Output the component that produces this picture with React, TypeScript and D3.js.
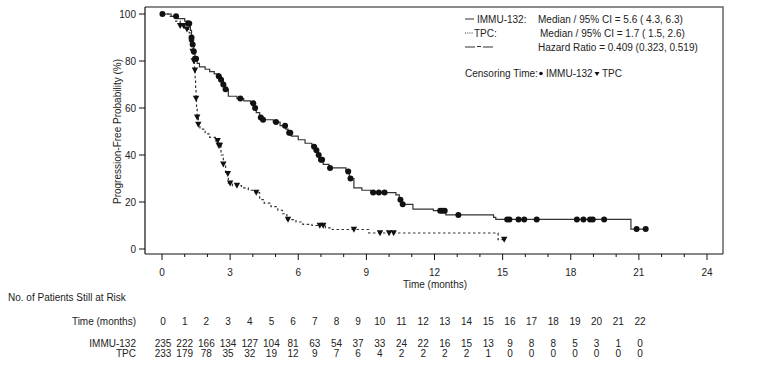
import React from "react";
import * as d3 from "d3";

// IMMU-132 step function: [time (months), PFS %]
const immuSteps: [number, number][] = [
  [0, 100], [0.4, 99], [0.7, 98], [1.0, 97], [1.15, 96], [1.25, 93], [1.3, 90], [1.35, 87],
  [1.4, 84], [1.45, 81], [1.55, 79], [1.65, 77.5], [1.9, 76.5], [2.1, 75.5], [2.3, 74.5],
  [2.5, 73.5], [2.6, 72], [2.7, 70], [2.8, 68], [2.92, 65], [3.3, 64], [3.6, 63], [3.9, 62],
  [4.05, 60], [4.15, 58], [4.3, 56], [4.4, 55], [4.9, 54], [5.2, 52.5], [5.45, 51], [5.55, 49.5],
  [5.7, 48], [6.0, 46.5], [6.3, 45], [6.6, 43.5], [6.75, 42], [6.85, 40], [6.95, 38], [7.1, 36],
  [7.35, 34.5], [8.1, 33], [8.25, 30], [8.45, 26], [8.8, 25], [9.2, 24], [10.3, 23], [10.45, 21],
  [10.55, 19], [11.05, 17], [11.95, 16.3], [12.5, 14.5], [14.6, 13.5], [14.7, 12.6], [20.65, 8.5],
  [21.3, 8.5],
];
const immuCensor: number[] = [
  0.02, 0.62, 1.15, 1.2, 1.3, 1.35, 1.4, 1.45, 1.5, 2.5, 2.6, 2.7, 2.8, 3.45, 4.02, 4.1, 4.35,
  4.45, 5.02, 5.42, 5.6, 5.65, 6.7, 6.8, 6.9, 7.0, 7.05, 7.4, 8.2, 8.3, 9.3, 9.55, 9.8, 10.5,
  10.6, 12.25, 12.35, 12.45, 13.05, 15.2, 15.3, 15.7, 15.95, 16.5, 18.27, 18.56, 18.85, 18.97,
  19.47, 20.9, 21.3,
];

// TPC step function
const tpcSteps: [number, number][] = [
  [0, 100], [0.3, 99], [0.6, 97], [0.8, 95], [1.0, 93.5], [1.2, 92], [1.3, 88], [1.35, 84],
  [1.4, 80], [1.43, 76], [1.46, 72], [1.48, 68], [1.5, 64], [1.52, 60], [1.55, 56], [1.6, 53],
  [1.67, 51], [1.9, 49], [2.1, 47.5], [2.35, 46], [2.5, 44], [2.6, 40], [2.7, 36], [2.8, 32],
  [2.92, 28], [3.1, 27], [3.5, 26], [3.8, 25], [4.1, 24], [4.3, 21], [4.5, 19.5], [4.8, 18],
  [5.1, 16.5], [5.3, 15], [5.5, 12.5], [5.9, 11.5], [6.2, 10.5], [6.6, 10], [7.2, 9], [7.5, 8.3],
  [9.1, 6.8], [14.8, 4], [15.07, 4],
];
const tpcCensor: number[] = [
  0.8, 0.95, 1.1, 1.3, 1.35, 1.4, 1.45, 1.5, 1.55, 1.6, 2.45, 2.5, 2.55, 2.7, 2.9, 3.0, 3.3,
  4.15, 5.55, 6.95, 7.1, 8.45, 9.6, 10.0, 10.2, 15.07,
];

const xTicks = d3.range(0, 25, 1);
const xLabels = [0, 3, 6, 9, 12, 15, 18, 21, 24];
const yTicks = [0, 20, 40, 60, 80, 100];

const riskTimes = d3.range(0, 23);
const immuRisk = [235, 222, 166, 134, 127, 104, 81, 63, 54, 37, 33, 24, 22, 16, 15, 13, 9, 8, 8, 5, 3, 1, 0];
const tpcRisk = [233, 179, 78, 35, 32, 19, 12, 9, 7, 6, 4, 2, 2, 2, 2, 1, 0, 0, 0, 0, 0, 0, 0];

const legendRows = [
  { name: "IMMU-132:", text: "Median / 95% CI = 5.6 ( 4.3, 6.3)" },
  { name: "TPC:", text: "Median / 95% CI = 1.7 ( 1.5, 2.6)" },
  { name: "", text: "Hazard Ratio = 0.409 (0.323, 0.519)" },
];

const FONT = "'Liberation Sans', Arial, sans-serif";
const INK = "#222";

function valueAt(steps: [number, number][], t: number) {
  let v = steps[0][1];
  for (const [s, val] of steps) {
    if (s <= t) v = val;
    else break;
  }
  return v;
}

export default function App() {
  const W = 765, H = 372;
  const x = d3.scaleLinear().domain([0, 24]).range([162, 707]);
  const y = d3.scaleLinear().domain([0, 100]).range([249, 14]);
  const xr = d3.scaleLinear().domain([0, 22]).range([163, 640]);
  const frame = { l: 145, t: 7, r: 723, b: 254 };

  const line = d3
    .line<[number, number]>()
    .x((d) => x(d[0]))
    .y((d) => y(d[1]))
    .curve(d3.curveStepAfter);

  const tri = (cx: number, cy: number) =>
    `M${cx - 3.2},${cy - 2.8}L${cx + 3.2},${cy - 2.8}L${cx},${cy + 3.2}Z`;

  return (
    <svg width={W} height={H} style={{ position: "absolute", left: 0, top: 0, background: "#fff" }}>
      <g fontFamily={FONT} fontSize={10} fill={INK}>
        {/* frame */}
        <path
          d={`M${frame.l},${frame.t}H${frame.r}V${frame.b}`}
          fill="none"
          stroke="#666"
          strokeWidth={1.5}
        />
        <line x1={frame.l} x2={frame.l} y1={frame.t} y2={frame.b} stroke="#111" strokeWidth={1.2} />
        <line x1={frame.l} x2={frame.r} y1={frame.b} y2={frame.b} stroke="#111" strokeWidth={1.2} />

        {/* y axis */}
        {yTicks.map((t) => (
          <g key={t}>
            <line x1={139} x2={frame.l} y1={y(t)} y2={y(t)} stroke="#111" />
            <text x={136} y={y(t) + 3.5} textAnchor="end">
              {t}
            </text>
          </g>
        ))}
        <text
          transform={`translate(121,${(y(0) + y(100)) / 2}) rotate(-90)`}
          textAnchor="middle"
        >
          Progression-Free Probability (%)
        </text>

        {/* x axis */}
        {xTicks.map((t) => (
          <line
            key={t}
            x1={x(t)}
            x2={x(t)}
            y1={frame.b}
            y2={frame.b + (t % 3 === 0 ? 6 : 3)}
            stroke="#111"
          />
        ))}
        {xLabels.map((t) => (
          <text key={t} x={x(t)} y={276} textAnchor="middle">
            {t}
          </text>
        ))}
        <text x={435} y={288} textAnchor="middle">
          Time (months)
        </text>

        {/* curves */}
        <path d={line(immuSteps) || ""} fill="none" stroke="#333" strokeWidth={1.2} />
        <path
          d={line(tpcSteps) || ""}
          fill="none"
          stroke="#333"
          strokeWidth={1.2}
          strokeDasharray="2.5,2.5"
        />
        {immuCensor.map((t, i) => (
          <circle key={i} cx={x(t)} cy={y(valueAt(immuSteps, t))} r={3} fill="#111" />
        ))}
        {tpcCensor.map((t, i) => (
          <path key={i} d={tri(x(t), y(valueAt(tpcSteps, t)))} fill="#111" />
        ))}

        {/* legend */}
        <line x1={465} x2={474} y1={19} y2={19} stroke="#333" strokeWidth={1} />
        <line x1={465} x2={473} y1={33} y2={33} stroke="#333" strokeWidth={1} strokeDasharray="1,1.2" />
        <path d="M465,47H475M477,46.5H481M483,47H493" fill="none" stroke="#333" strokeWidth={1} />
        <text x={477} y={23}>{legendRows[0].name}</text>
        <text x={538} y={23}>{legendRows[0].text}</text>
        <text x={474} y={37}>{legendRows[1].name}</text>
        <text x={540} y={37}>{legendRows[1].text}</text>
        <text x={538} y={51}>{legendRows[2].text}</text>
        <text x={465} y={77}>Censoring Time:</text>
        <circle cx={541} cy={73.5} r={1.8} fill="#111" />
        <text x={546} y={77}>IMMU-132</text>
        <path d={`M594.5,72L599.5,72L597,76Z`} fill="#111" />
        <text x={602} y={77}>TPC</text>

        {/* risk table */}
        <text x={8} y={301}>No. of Patients Still at Risk</text>
        <text x={136} y={325} textAnchor="end">Time (months)</text>
        <text x={136} y={347} textAnchor="end">IMMU-132</text>
        <text x={136} y={357} textAnchor="end">TPC</text>
        {riskTimes.map((t, i) => (
          <g key={t}>
            <text x={xr(t)} y={325} textAnchor="middle">{t}</text>
            <text x={xr(t)} y={347} textAnchor="middle">{immuRisk[i]}</text>
            <text x={xr(t)} y={357} textAnchor="middle">{tpcRisk[i]}</text>
          </g>
        ))}
      </g>
    </svg>
  );
}
